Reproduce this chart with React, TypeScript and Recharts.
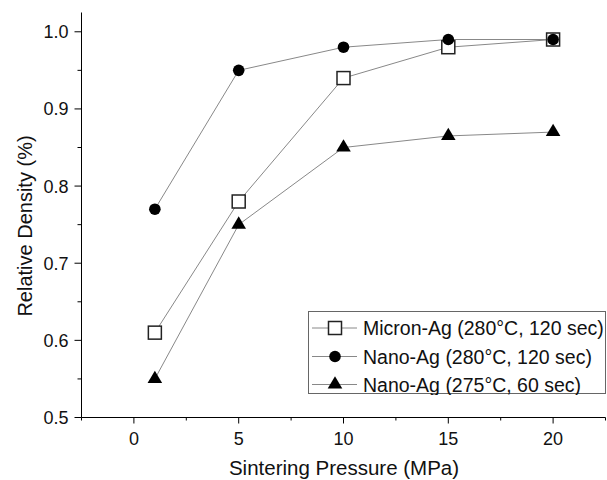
import { LineChart, Line, XAxis, YAxis, Legend } from 'recharts';

const pressure = [1, 5, 10, 15, 20];
const micronAg280 = [0.61, 0.78, 0.94, 0.98, 0.99];
const nanoAg280 = [0.77, 0.95, 0.98, 0.99, 0.99];
const nanoAg275 = [0.55, 0.75, 0.85, 0.865, 0.87];

const xTicks = [-2.5, 0, 2.5, 5, 7.5, 10, 12.5, 15, 17.5, 20, 22.5];
const yTicks = [0.5, 0.55, 0.6, 0.65, 0.7, 0.75, 0.8, 0.85, 0.9, 0.95, 1.0];

const seriesNames = [
  'Micron-Ag (280°C, 120 sec)',
  'Nano-Ag (280°C, 120 sec)',
  'Nano-Ag (275°C, 60 sec)',
];

const FONT = '"Liberation Sans", Arial, sans-serif';
const LINE_GRAY = '#888888';

const toPoints = (values: number[]) => pressure.map((p, i) => ({ x: p, y: values[i] }));

const squareData = toPoints(micronAg280);
const circleData = toPoints(nanoAg280);
const triangleData = toPoints(nanoAg275);

const Square = ({ cx, cy }: { cx: number; cy: number }) => (
  <rect x={cx - 6.5} y={cy - 6.5} width={13} height={13} fill="#fff" stroke="#222" strokeWidth={1.5} />
);
const Circle = ({ cx, cy }: { cx: number; cy: number }) => <circle cx={cx} cy={cy} r={5.8} fill="#000" />;
const Triangle = ({ cx, cy }: { cx: number; cy: number }) => (
  <polygon points={`${cx},${cy - 8.3} ${cx - 7.3},${cy + 4} ${cx + 7.3},${cy + 4}`} fill="#000" />
);

const markers = [Square, Circle, Triangle];

function XTick(props: any) {
  const { x, y, payload } = props;
  const v = payload.value;
  const major = Math.abs(v / 5 - Math.round(v / 5)) < 1e-6;
  return (
    <g>
      <line x1={x} x2={x} y1={y} y2={y + (major ? 6 : 3)} stroke="#000" />
      {major && (
        <text x={x} y={y + 27} textAnchor="middle" fontSize={18} fontFamily={FONT} fill="#111">
          {v}
        </text>
      )}
    </g>
  );
}

function YTick(props: any) {
  const { x, y, payload } = props;
  const v = payload.value;
  const major = Math.abs(v * 10 - Math.round(v * 10)) < 1e-6;
  return (
    <g>
      <line x1={x - (major ? 7 : 4)} x2={x} y1={y} y2={y} stroke="#000" />
      {major && (
        <text x={x - 13} y={y + 6.5} textAnchor="end" fontSize={18} fontFamily={FONT} fill="#111">
          {v.toFixed(1)}
        </text>
      )}
    </g>
  );
}

function LegendBox() {
  const rows = [17, 45.5, 73.5];
  return (
    <svg width={299} height={84} style={{ display: 'block' }}>
      <rect x={0.5} y={0.5} width={297} height={82} fill="#fff" stroke="#666" />
      {seriesNames.map((name, i) => {
        const M = markers[i];
        return (
          <g key={name}>
            <line x1={4} x2={49} y1={rows[i]} y2={rows[i]} stroke={LINE_GRAY} />
            <M cx={27} cy={rows[i]} />
            <text x={55} y={rows[i] + 7} fontSize={19.5} fontFamily={FONT} fill="#111">
              {name}
            </text>
          </g>
        );
      })}
    </svg>
  );
}

export default function App() {
  const series = [squareData, circleData, triangleData];
  return (
    <div style={{ position: 'absolute', left: 0, top: 0, width: 607, height: 480, background: '#fff' }}>
      <LineChart width={607} height={480} margin={{ top: 12.5, right: 1.5, bottom: 0, left: 0 }}>
        <XAxis
          dataKey="x"
          type="number"
          domain={[-2.5, 22.5]}
          ticks={xTicks}
          interval={0}
          allowDataOverflow
          height={62.5}
          tickSize={0}
          tickMargin={0}
          tickLine={false}
          axisLine={{ stroke: '#000' }}
          tick={XTick}
          label={() => (
            <text x={344} y={475} textAnchor="middle" fontSize={20.5} fontFamily={FONT} fill="#111">
              Sintering Pressure (MPa)
            </text>
          )}
        />
        <YAxis
          dataKey="y"
          type="number"
          domain={[0.5, 1.025]}
          ticks={yTicks}
          interval={0}
          allowDataOverflow
          width={81.5}
          tickSize={0}
          tickMargin={0}
          tickLine={false}
          axisLine={{ stroke: '#000' }}
          tick={YTick}
          label={() => (
            <text
              x={32}
              y={226}
              transform="rotate(-90 32 226)"
              textAnchor="middle"
              fontSize={20}
              fontFamily={FONT}
              fill="#111"
            >
              Relative Density (%)
            </text>
          )}
        />
        <Legend
          layout="horizontal"
          verticalAlign="middle"
          align="center"
          wrapperStyle={{ position: 'absolute', left: 308, top: 311, width: 299, height: 84 }}
          content={() => <LegendBox />}
        />
        {series.map((data, i) => {
          const M = markers[i];
          return (
            <Line
              key={seriesNames[i]}
              data={data}
              dataKey="y"
              name={seriesNames[i]}
              type="linear"
              stroke={LINE_GRAY}
              strokeWidth={1}
              dot={(p: any) => <M key={`m-${i}-${p.index}`} cx={p.cx} cy={p.cy} />}
              activeDot={false}
              isAnimationActive={false}
            />
          );
        })}
      </LineChart>
    </div>
  );
}
